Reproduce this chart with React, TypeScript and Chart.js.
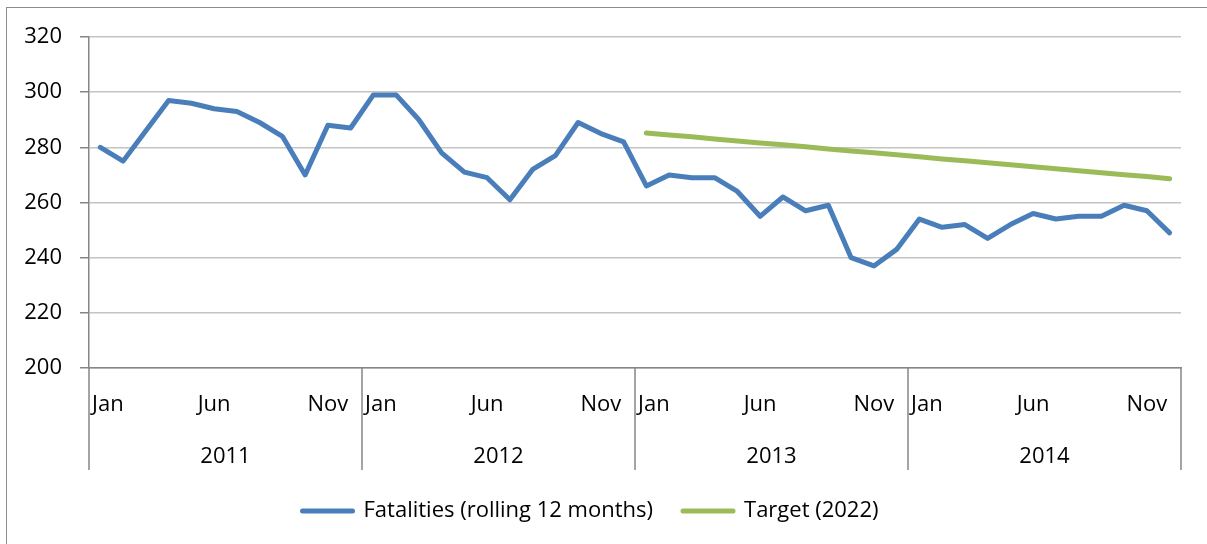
import React, { useEffect, useRef } from "react";
import { Chart, registerables } from "chart.js";

Chart.register(...registerables);

const MONTHS = ["Jan", "Feb", "Mar", "Apr", "May", "Jun", "Jul", "Aug", "Sep", "Oct", "Nov", "Dec"];
const YEARS = ["2011", "2012", "2013", "2014"];
const SHOWN_MONTHS = ["Jan", "Jun", "Nov"];

const FATALITIES = [
  280, 275, 286, 297, 296, 294, 293, 289, 284, 270, 288, 287,
  299, 299, 290, 278, 271, 269, 261, 272, 277, 289, 285, 282,
  266, 270, 269, 269, 264, 255, 262, 257, 259, 240, 237, 243,
  254, 251, 252, 247, 252, 256, 254, 255, 255, 259, 257, 249,
];

const TARGET = [
  null, null, null, null, null, null, null, null, null, null, null, null,
  null, null, null, null, null, null, null, null, null, null, null, null,
  285.2, 284.5, 283.8, 283.0, 282.3, 281.6, 280.9, 280.2, 279.4, 278.7, 278.0, 277.3,
  276.6, 275.8, 275.1, 274.4, 273.7, 273.0, 272.2, 271.5, 270.8, 270.1, 269.4, 268.6,
];

const Y_MIN = 200;
const Y_MAX = 320;
const Y_STEP = 20;

const FONT = "'Open Sans', sans-serif";
const AXIS_COLOR = "#868686";
const GRID_COLOR = "#c4c4c4";

const groupAxisPlugin = {
  id: "groupAxis",
  afterDraw(chart: any) {
    const ctx = chart.ctx;
    const xs = chart.scales.x;
    const area = chart.chartArea;
    const labels: string[] = chart.data.labels;
    const n = labels.length;
    const step = xs.getPixelForValue(1) - xs.getPixelForValue(0);
    ctx.save();
    // outer chart border
    ctx.strokeStyle = "#8c8c8c";
    ctx.lineWidth = 1;
    ctx.strokeRect(6.5, 7.5, 1400, 800);

    const yTop = area.bottom;
    const yBot = area.bottom + 102;
    const bounds: number[] = [];
    for (let g = 0; g <= YEARS.length; g++) {
      const px = g === YEARS.length
        ? xs.getPixelForValue(n - 1) + step / 2
        : xs.getPixelForValue(g * MONTHS.length) - step / 2;
      bounds.push(px);
    }
    ctx.strokeStyle = AXIS_COLOR;
    ctx.lineWidth = 1.5;
    bounds.forEach((px) => {
      ctx.beginPath();
      ctx.moveTo(px, yTop);
      ctx.lineTo(px, yBot);
      ctx.stroke();
    });

    ctx.fillStyle = "#000";
    ctx.font = `22px ${FONT}`;
    ctx.textBaseline = "middle";
    ctx.textAlign = "left";
    for (let i = 0; i < n; i++) {
      const m = labels[i];
      if (!SHOWN_MONTHS.includes(m)) continue;
      const g = Math.floor(i / MONTHS.length);
      const w = ctx.measureText(m).width;
      const cx = xs.getPixelForValue(i);
      let left = cx - w / 2;
      left = Math.max(left, bounds[g] + 3);
      left = Math.min(left, bounds[g + 1] - 3 - w);
      ctx.fillText(m, left, yTop + 37);
    }
    ctx.textAlign = "center";
    YEARS.forEach((yr, g) => {
      ctx.fillText(yr, (bounds[g] + bounds[g + 1]) / 2, yTop + 89);
    });
    ctx.restore();
  },
};

export default function App() {
  const ref = useRef<HTMLCanvasElement>(null);
  useEffect(() => {
    if (!ref.current) return;
    const labels: string[] = [];
    YEARS.forEach(() => MONTHS.forEach((m) => labels.push(m)));
    const chart = new Chart(ref.current, {
      type: "line",
      data: {
        labels,
        datasets: [
          {
            label: "Fatalities (rolling 12 months)",
            data: FATALITIES,
            borderColor: "#4a7ebb",
            backgroundColor: "#4a7ebb",
            borderWidth: 5,
            pointRadius: 0,
            tension: 0,
            borderCapStyle: "round",
            borderJoinStyle: "round",
          },
          {
            label: "Target (2022)",
            data: TARGET,
            borderColor: "#9bbb59",
            backgroundColor: "#9bbb59",
            borderWidth: 5,
            pointRadius: 0,
            tension: 0,
            borderCapStyle: "round",
            borderJoinStyle: "round",
          },
        ],
      },
      options: {
        animation: false,
        responsive: false,
        maintainAspectRatio: false,
        layout: { padding: { left: 0, right: 26, top: 37, bottom: 12 } },
        plugins: {
          legend: {
            position: "bottom",
            labels: {
              font: { family: FONT, size: 22 },
              color: "#000",
              boxWidth: 50,
              boxHeight: 0,
              padding: 30,
            },
          },
          tooltip: { enabled: false },
        },
        scales: {
          x: {
            offset: true,
            grid: { display: false },
            border: { display: true, color: AXIS_COLOR, width: 1.5 },
            ticks: { display: false },
            afterFit: (s: any) => {
              s.height = 102;
            },
          },
          y: {
            min: Y_MIN,
            max: Y_MAX,
            ticks: {
              stepSize: Y_STEP,
              color: "#000",
              font: { family: FONT, size: 22 },
              padding: 18,
            },
            grid: {
              color: GRID_COLOR,
              lineWidth: 1.5,
              tickLength: 9,
              tickColor: AXIS_COLOR,
            },
            border: { display: true, color: AXIS_COLOR, width: 1.5 },
            afterFit: (s: any) => {
              s.width = 89;
            },
          },
        },
      },
      plugins: [groupAxisPlugin],
    });
    return () => chart.destroy();
  }, []);
  return (
    <div style={{ position: "absolute", left: 0, top: 0, width: 1207, height: 544, overflow: "hidden", background: "#fff" }}>
      <canvas ref={ref} width={1207} height={544} style={{ display: "block" }} />
    </div>
  );
}
